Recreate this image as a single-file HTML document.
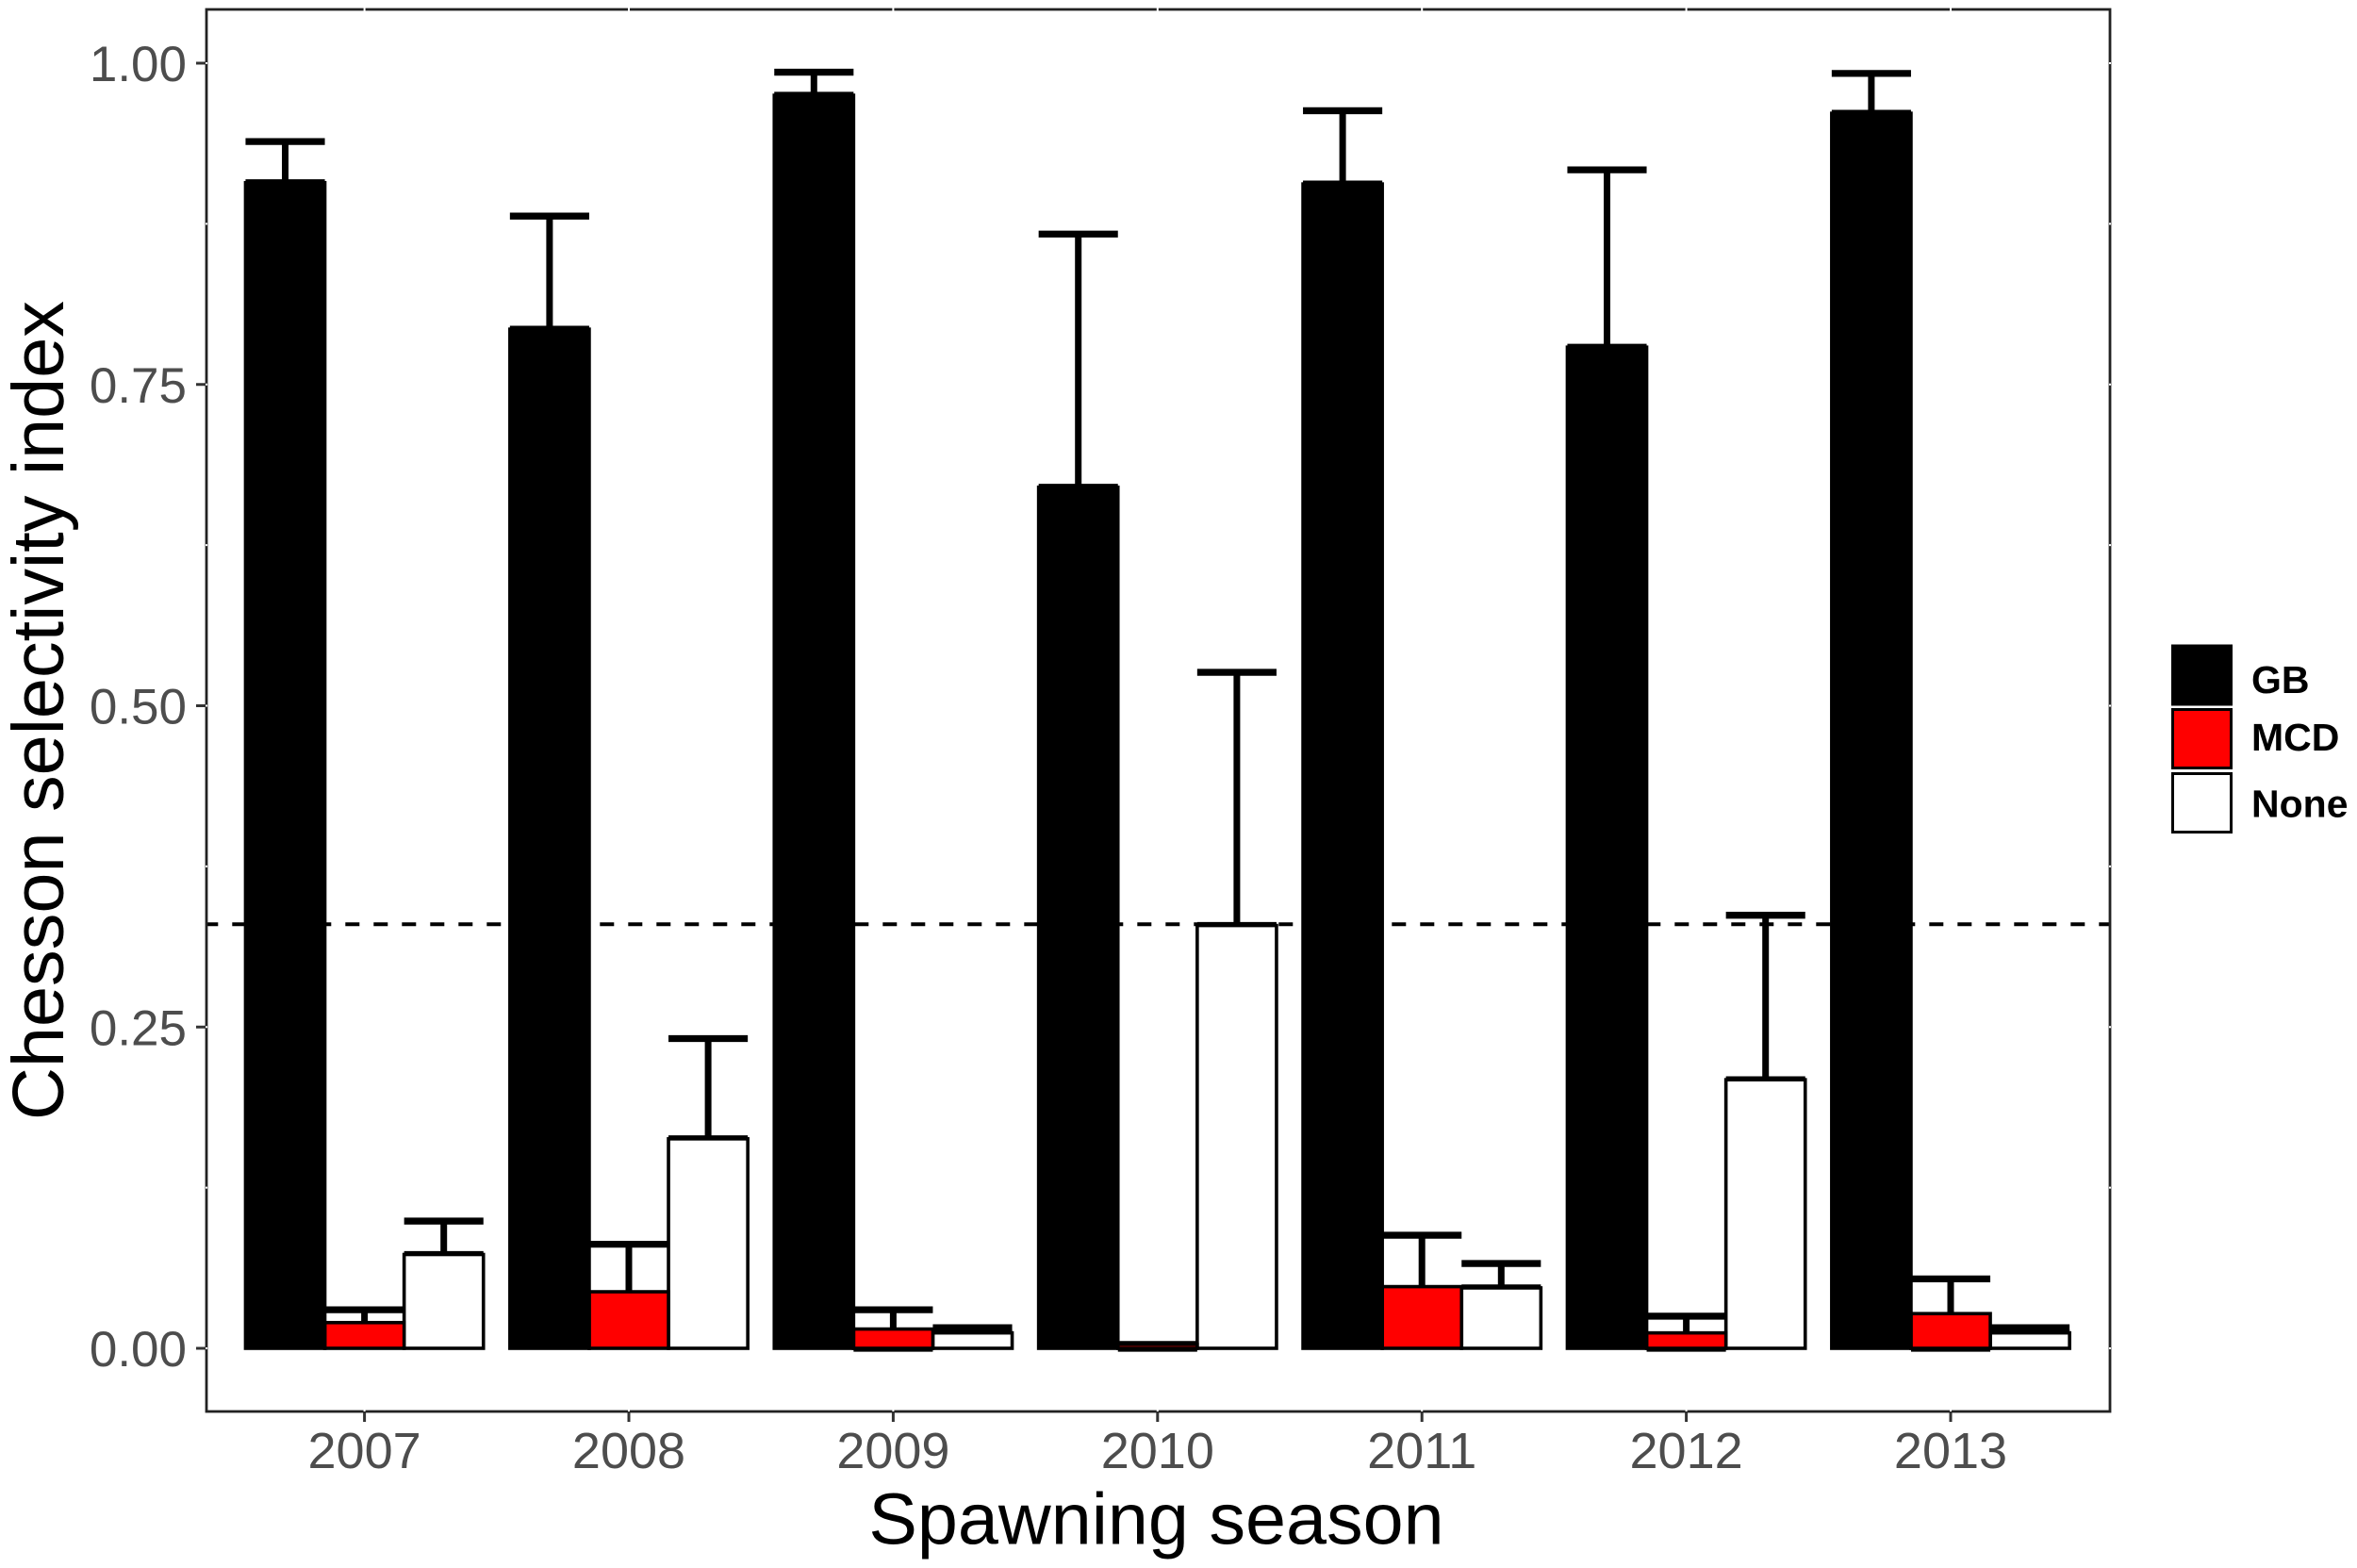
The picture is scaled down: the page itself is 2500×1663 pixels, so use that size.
<!DOCTYPE html>
<html lang="en">
<head>
<meta charset="utf-8">
<title>Chesson selectivity index by spawning season</title>
<style>
html,body{margin:0;padding:0;background:#fff;}
svg{display:block;}
text{font-family:"Liberation Sans",Arial,sans-serif;}
</style>
</head>
<body>
<svg id="chart" xmlns="http://www.w3.org/2000/svg" width="2500" height="1663" viewBox="0 0 2500 1663">
<rect x="0" y="0" width="2500" height="1663" fill="#fff"/>
<g id="marks"></g>
<g id="axes"></g>
<text x="1226.5" y="1637.5" font-size="77.3" text-anchor="middle" fill="#000">Spawning season</text>
<text transform="translate(67,753.5) rotate(-90)" font-size="77.4" text-anchor="middle" fill="#000">Chesson selectivity index</text>
<g>
<rect x="2303" y="683.5" width="65" height="65" fill="#000"/>
<rect x="2304.5" y="752.5" width="62" height="62" fill="#f00" stroke="#000" stroke-width="3"/>
<rect x="2304.5" y="820.5" width="62" height="62" fill="#fff" stroke="#000" stroke-width="3"/>
<text x="2388" y="735" font-size="41" font-weight="700" fill="#000">GB</text>
<text x="2388" y="796" font-size="41" font-weight="700" fill="#000">MCD</text>
<text x="2388" y="866.5" font-size="41" font-weight="700" fill="#000">None</text>
</g>
</svg>
<script>
const years = ["2007", "2008", "2009", "2010", "2011", "2012", "2013"];
const seriesNames = ["GB", "MCD", "None"];
const seriesFills = ["#000000", "#ff0000", "#ffffff"];
const gbValues = [0.907, 0.793, 0.975, 0.670, 0.906, 0.779, 0.961];
const gbUpper = [0.939, 0.881, 0.993, 0.867, 0.963, 0.917, 0.992];
const mcdValues = [0.020, 0.044, 0.015, 0.003, 0.048, 0.012, 0.027];
const mcdUpper = [0.030, 0.081, 0.030, 0.003, 0.088, 0.025, 0.054];
const mcdLower = [0.010, 0.007, 0.000, 0.000, 0.007, 0.000, 0.000];
const noneValues = [0.073, 0.163, 0.012, 0.329, 0.047, 0.209, 0.012];
const noneUpper = [0.099, 0.241, 0.016, 0.526, 0.066, 0.337, 0.016];
const yTickValues = [0, 0.25, 0.5, 0.75, 1];
const yTickLabels = ["0.00", "0.25", "0.50", "0.75", "1.00"];
const referenceValue = 0.33;

const NS = "http://www.w3.org/2000/svg";
const panel = {left: 219, right: 2238, top: 10, bottom: 1497};
function yScale(v) { return 1430 - v * 1363; }
function xScale(i) { return 386.6 + i * 280.4; }
const barWidth = 84.1;
function barLeft(i, s) { return xScale(i) - 1.5 * barWidth + s * barWidth; }

function make(tag, attrs, parent) {
  const el = document.createElementNS(NS, tag);
  for (const k in attrs) el.setAttribute(k, attrs[k]);
  parent.appendChild(el);
  return el;
}
const marks = document.getElementById("marks");
const axes = document.getElementById("axes");

const hline = make("line", {x1: panel.left, x2: panel.right, y1: yScale(referenceValue), y2: yScale(referenceValue), stroke: "#000", "stroke-width": 4, "stroke-dasharray": "15 15", "stroke-dashoffset": 2.7}, marks);



const seriesValues = [gbValues, mcdValues, noneValues];
const seriesUpper = [gbUpper, mcdUpper, noneUpper];
const seriesLower = [gbValues, mcdLower, noneValues];

function drawError(i, s) {
  const cx = barLeft(i, s) + barWidth / 2;
  const yTop = yScale(seriesUpper[s][i]);
  const yBottom = yScale(seriesLower[s][i]);
  const g = make("g", {}, marks);
  
  
  make("line", {x1: cx, x2: cx, y1: yTop, y2: yBottom, stroke: "#000", "stroke-width": 7}, g);
  make("line", {x1: cx - barWidth / 2, x2: cx + barWidth / 2, y1: yTop, y2: yTop, stroke: "#000", "stroke-width": 7.3}, g);
  make("line", {x1: cx - barWidth / 2, x2: cx + barWidth / 2, y1: yBottom, y2: yBottom, stroke: "#000", "stroke-width": 7.3}, g);
}
function drawBar(i, s) {
  const top = yScale(seriesValues[s][i]);
  const bar = make("rect", {x: barLeft(i, s), y: top, width: barWidth, height: yScale(0) - top, fill: seriesFills[s], stroke: "#000", "stroke-width": 3.6, "stroke-linejoin": "miter"}, marks);
  
  
}
years.forEach(function (year, i) {
  for (let s = 2; s >= 0; s--) drawError(i, s);
});
years.forEach(function (year, i) {
  drawBar(i, 2);
  drawBar(i, 1);
  drawBar(i, 0);
});

const border = make("rect", {x: panel.left, y: panel.top, width: panel.right - panel.left, height: panel.bottom - panel.top, fill: "none", stroke: "#222", "stroke-width": 2.8}, axes);



/* white gridline nicks visible across the panel border */
years.forEach(function (year, i) {
  const x = xScale(i);
  make("line", {x1: x, x2: x, y1: panel.top - 2, y2: panel.top + 2, stroke: "#fff", "stroke-width": 2}, axes);
  make("line", {x1: x, x2: x, y1: panel.bottom - 2, y2: panel.bottom, stroke: "#fff", "stroke-width": 2}, axes);
});
for (let k = 0; k <= 8; k++) {
  const y = yScale(k * 0.125);
  make("line", {x1: panel.left - 1, x2: panel.left + 1, y1: y, y2: y, stroke: "#fff", "stroke-width": 2}, axes);
  make("line", {x1: panel.right - 1, x2: panel.right + 1, y1: y, y2: y, stroke: "#fff", "stroke-width": 2}, axes);
}

yTickValues.forEach(function (v, k) {
  const y = yScale(v);
  const tick = make("line", {x1: panel.left - 11, x2: panel.left - 1, y1: y, y2: y, stroke: "#333", "stroke-width": 3}, axes);
  
  
  const label = make("text", {x: 198, y: y + 19, "font-size": 53, "text-anchor": "end", fill: "#4d4d4d"}, axes);
  label.textContent = yTickLabels[k];
  
  
});
years.forEach(function (year, i) {
  const x = xScale(i);
  const tick = make("line", {x1: x, x2: x, y1: panel.bottom + 1, y2: 1508, stroke: "#333", "stroke-width": 3}, axes);
  
  
  const label = make("text", {x: x, y: 1557, "font-size": 54, "text-anchor": "middle", fill: "#4d4d4d"}, axes);
  label.textContent = year;
  
  
});
</script>
</body>
</html>
